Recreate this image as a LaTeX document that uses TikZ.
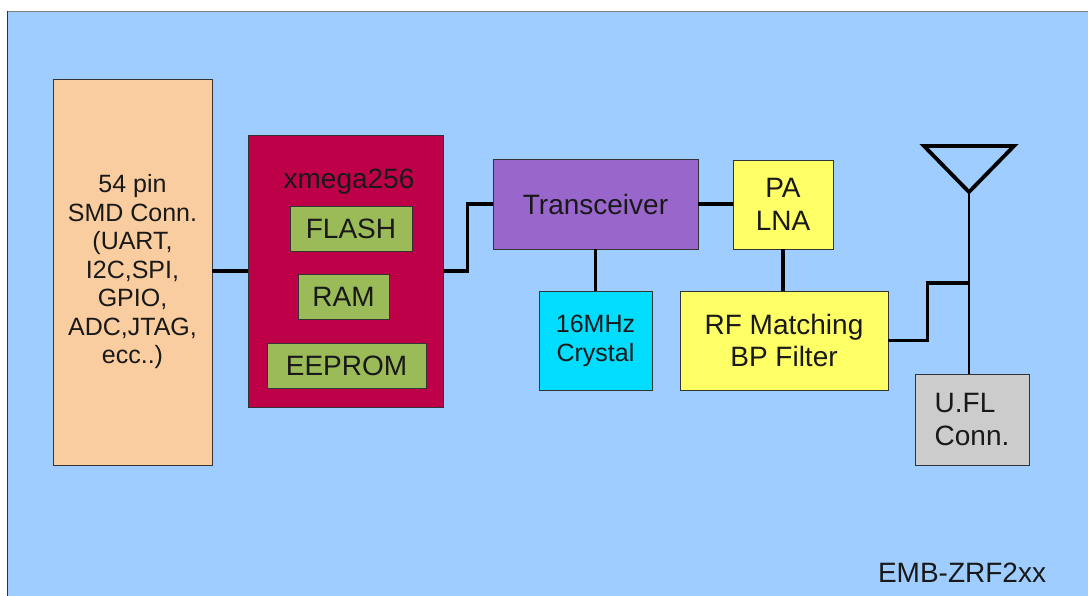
\documentclass[tikz,border=0pt]{standalone}
\usepackage{fontspec}
\setmainfont{Liberation Sans}
\definecolor{bgblue}{HTML}{9FCDFF}
\definecolor{peach}{HTML}{F9CD9F}
\definecolor{crimson}{HTML}{BE0048}
\definecolor{memgreen}{HTML}{9BBB59}
\definecolor{trxpurple}{HTML}{9966CC}
\definecolor{rfyellow}{HTML}{FFFF66}
\definecolor{xtalcyan}{HTML}{00DDFF}
\definecolor{connGray}{HTML}{CCCCCC}
\definecolor{edge}{HTML}{333333}
\begin{document}
\begin{tikzpicture}[x=1pt,y=-1pt,
  block/.style={draw=edge,line width=0.8pt,inner sep=0pt,align=center,
    text=black!90,font=\fontsize{28}{32.5}\selectfont},
  wire/.style={line width=3.6pt}]
  \useasboundingbox (0,0) rectangle (1088,596);
  \fill[bgblue] (7,11) rectangle (1088,596);
  \draw[gray] (1088,11) -- (7,11);
  \draw[black!80] (7,11) -- (7,596);
  % blocks
  \node[block,fill=peach,minimum width=159pt,minimum height=386pt,
    font=\fontsize{25}{28.5}\selectfont] (smd) at (132.5,272)
    {54 pin\\SMD Conn.\\(UART,\\I2C,SPI,\\GPIO,\\ADC,JTAG,\\ecc..)};
  \node[block,fill=crimson,minimum width=195pt,minimum height=272pt] (mcu) at (345.5,271) {};
  \node[font=\fontsize{28}{32.5}\selectfont,text=black!90] (mcutitle) at (349,182) {xmega256};
  \foreach \name/\x/\y/\w in {FLASH/351/228.5/122, RAM/343.5/297/91, EEPROM/346.5/365.5/159}
    \node[block,fill=memgreen,minimum width=\w pt,minimum height=45pt] (\name) at (\x,\y) {\name};
  \node[block,fill=trxpurple,minimum width=205pt,minimum height=90pt] (trx) at (595.5,204) {Transceiver};
  \node[block,fill=rfyellow,minimum width=100pt,minimum height=89pt] (pa) at (783,204.5) {PA\\LNA};
  \node[block,fill=xtalcyan,minimum width=113pt,minimum height=99pt,
    font=\fontsize{25}{29}\selectfont] (xtal) at (595.5,340.5) {16MHz\\Crystal};
  \node[block,fill=rfyellow,minimum width=208pt,minimum height=99pt] (rf) at (784,340.5) {RF Matching\\BP Filter};
  \node[block,fill=connGray,minimum width=114pt,minimum height=91pt,align=left] (ufl) at (972,419.5) {U.FL\\Conn.};
  \node[font=\fontsize{28}{32.5}\selectfont,text=black!90] (model) at (962,573) {EMB-ZRF2xx};
  % antenna
  \coordinate (apex) at (969,192);
  \coordinate (tap) at (969,283);
  \draw[line width=3.8pt] (924,146) -- (1014,146) -- (apex) -- cycle;
  \draw[line width=2.4pt] (apex) -- (apex |- ufl.north);
  % wires
  \draw[wire] (smd.east |- 0,271) -- (mcu.west |- 0,271);
  \draw[wire] (mcu.east |- 0,271) -- ++(24,0) |- (trx.west);
  \draw[wire] (trx.east) -- (trx.east -| pa.west);
  \draw[wire] (trx.south) -- (xtal.north);
  \draw[wire] (pa.south) -- (pa.south |- rf.north);
  \draw[wire] (rf.east) -- ++(39,0) |- (tap);
\end{tikzpicture}
\end{document}
